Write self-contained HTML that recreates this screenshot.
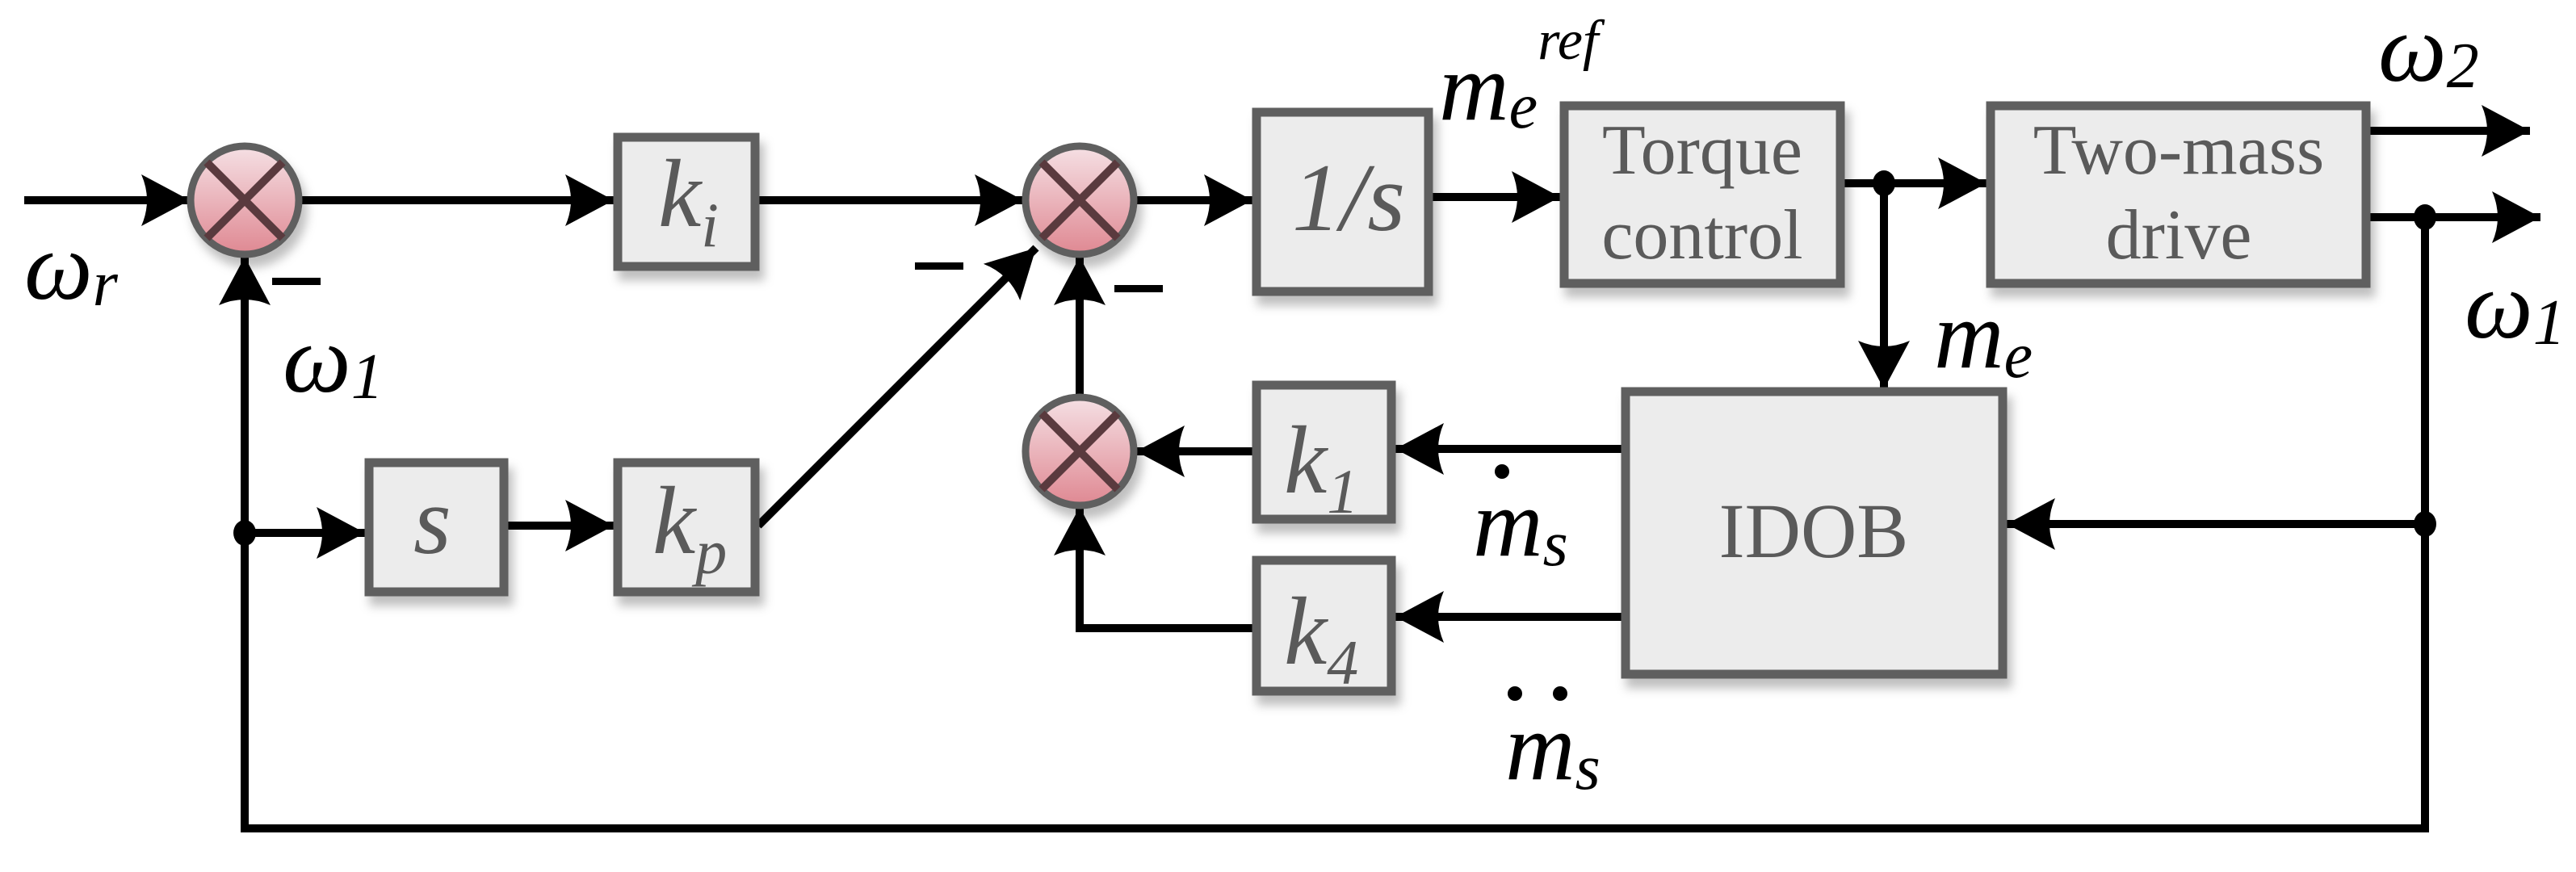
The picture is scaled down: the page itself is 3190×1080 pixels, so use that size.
<!DOCTYPE html>
<html><head><meta charset="utf-8"><style>
html,body{margin:0;padding:0;background:#fff}
svg{display:block}
</style></head><body>
<svg width="3190" height="1080" viewBox="0 0 3190 1080" xmlns="http://www.w3.org/2000/svg">
<defs>
<linearGradient id="pk" x1="0" y1="0" x2="0" y2="1">
<stop offset="0" stop-color="#f5e0e4"/><stop offset="1" stop-color="#df8892"/>
</linearGradient>
<filter id="sh" x="-10%" y="-10%" width="130%" height="130%"><feDropShadow dx="6" dy="12" stdDeviation="6" flood-color="#000" flood-opacity="0.25"/></filter>
<marker id="ar" markerUnits="userSpaceOnUse" viewBox="0 0 60 64" refX="60" refY="32" markerWidth="60" markerHeight="64" orient="auto">
<path d="M0,0 L60,32 L0,64 Q14,32 0,0 Z" fill="#000"/>
</marker>
</defs>
<g font-family="Liberation Serif, serif">
<!-- lines -->
<g stroke="#000" stroke-width="10" fill="none">
<line x1="30" y1="248" x2="235" y2="248" marker-end="url(#ar)"/>
<line x1="372" y1="248" x2="760" y2="248" marker-end="url(#ar)"/>
<line x1="939" y1="248" x2="1267" y2="248" marker-end="url(#ar)"/>
<line x1="1407" y1="248" x2="1551" y2="248" marker-end="url(#ar)"/>
<line x1="1774" y1="244" x2="1932" y2="244" marker-end="url(#ar)"/>
<line x1="2284" y1="227" x2="2460" y2="227" marker-end="url(#ar)"/>
<line x1="2935" y1="162" x2="3133" y2="162" marker-end="url(#ar)"/>
<line x1="2935" y1="269" x2="3146" y2="269" marker-end="url(#ar)"/>
<polyline points="3003,269 3003,1026 303,1026 303,318" marker-end="url(#ar)"/>
<line x1="303" y1="660" x2="452" y2="660" marker-end="url(#ar)"/>
<line x1="628" y1="651" x2="760" y2="651" marker-end="url(#ar)"/>
<line x1="939" y1="651" x2="1283" y2="307" marker-end="url(#ar)"/>
<line x1="1337" y1="490" x2="1337" y2="318" marker-end="url(#ar)"/>
<line x1="1551" y1="559" x2="1407" y2="559" marker-end="url(#ar)"/>
<polyline points="1551,778 1337,778 1337,628" marker-end="url(#ar)"/>
<line x1="2008" y1="556" x2="1728" y2="556" marker-end="url(#ar)"/>
<line x1="2008" y1="764" x2="1728" y2="764" marker-end="url(#ar)"/>
<line x1="2333" y1="227" x2="2333" y2="482" marker-end="url(#ar)"/>
<line x1="3003" y1="649" x2="2485" y2="649" marker-end="url(#ar)"/>
</g>
<g fill="#000">
<ellipse cx="303" cy="660" rx="14" ry="16"/>
<ellipse cx="2333" cy="227" rx="14" ry="16"/>
<ellipse cx="3003" cy="269" rx="14" ry="16"/>
<ellipse cx="3003" cy="649" rx="14" ry="16"/>
<rect x="337" y="344" width="60" height="9"/>
<rect x="1133" y="325" width="60" height="9"/>
<rect x="1380" y="353" width="60" height="9"/>
<circle cx="1860" cy="584" r="9"/>
<circle cx="1876" cy="859" r="9"/>
<circle cx="1932" cy="859" r="9"/>
</g>
<!-- sums -->
<g stroke="#5e5e5e" stroke-width="9" filter="url(#sh)">
<circle cx="303" cy="248" r="67" fill="url(#pk)"/>
<circle cx="1337" cy="248" r="67" fill="url(#pk)"/>
<circle cx="1337" cy="559" r="67" fill="url(#pk)"/>
</g>
<g stroke="#5a3a3e" stroke-width="10">
<path d="M256,201 L350,295 M350,201 L256,295"/>
<path d="M1290,201 L1384,295 M1384,201 L1290,295"/>
<path d="M1290,512 L1384,606 M1384,512 L1290,606"/>
</g>
<!-- boxes -->
<g fill="#ececec" stroke="#5e5e5e" stroke-width="11" filter="url(#sh)">
<rect x="765" y="170" width="170" height="160"/>
<rect x="457" y="573" width="167" height="160"/>
<rect x="765" y="573" width="170" height="160"/>
<rect x="1556" y="139" width="213" height="222"/>
<rect x="1937" y="131" width="342" height="220"/>
<rect x="2465" y="131" width="465" height="220"/>
<rect x="1556" y="477" width="167" height="166"/>
<rect x="1556" y="694" width="167" height="162"/>
<rect x="2013" y="485" width="467" height="350"/>
</g>
<g fill="#5a5a5a" font-size="120" font-style="italic">
<text x="815" y="280">k<tspan font-size="78" dy="25">i</tspan></text>
<text x="512" y="685">s</text>
<text x="808" y="685">k<tspan font-size="78" dy="25">p</tspan></text>
<text x="1600" y="285">1/s</text>
<text x="1590" y="610">k<tspan font-size="78" dy="25">1</tspan></text>
<text x="1590" y="822">k<tspan font-size="78" dy="25">4</tspan></text>
</g>
<g fill="#5a5a5a" font-size="88" text-anchor="middle">
<text x="2108" y="215">Torque</text>
<text x="2108" y="320">control</text>
<text x="2698" y="215">Two-mass</text>
<text x="2698" y="320">drive</text>
<text x="2246" y="690" font-size="96">IDOB</text>
</g>
<g fill="#000" font-size="120" font-style="italic">
<text x="30" y="370">ω<tspan font-size="80" dy="8">r</tspan></text>
<text x="350" y="485">ω<tspan font-size="80" dy="8">1</tspan></text>
<text x="1782" y="148">m<tspan font-size="80" dy="10">e</tspan><tspan font-size="70" dy="-85">ref</tspan></text>
<text x="2395" y="455">m<tspan font-size="80" dy="12">e</tspan></text>
<text x="2945" y="100">ω<tspan font-size="80" dy="8">2</tspan></text>
<text x="3052" y="418">ω<tspan font-size="80" dy="8">1</tspan></text>
<text x="1824" y="688">m<tspan font-size="80" dy="12">s</tspan></text>
<text x="1864" y="965">m<tspan font-size="80" dy="12">s</tspan></text>
</g>
</g>
</svg>
</body></html>
